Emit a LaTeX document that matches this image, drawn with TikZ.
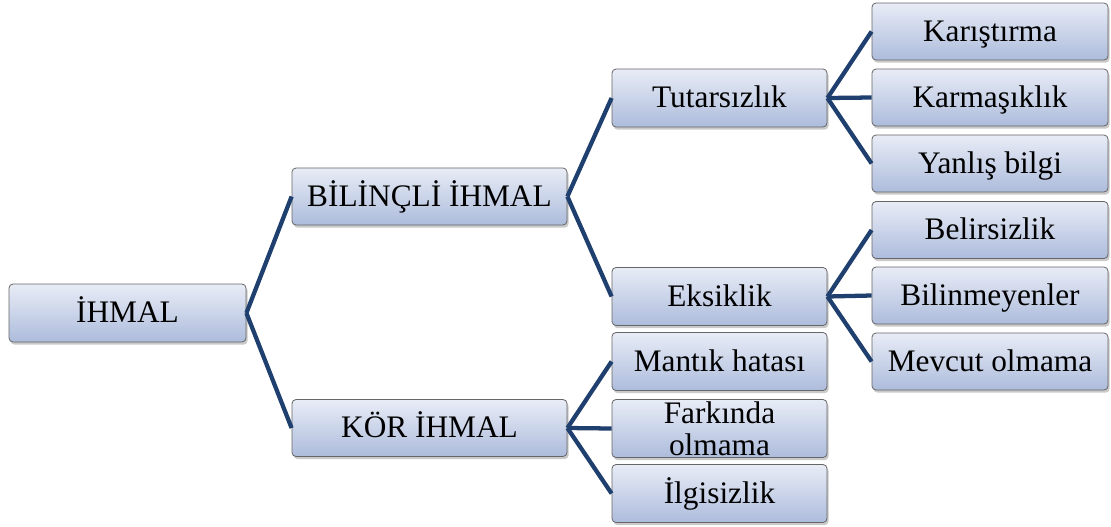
\documentclass[tikz,border=0pt]{standalone}
\usepackage{fontspec}
\setmainfont{Liberation Serif}
\usetikzlibrary{shadows}
\definecolor{linkc}{HTML}{1F3F6E}
\definecolor{boxtop}{HTML}{E8ECF6}
\definecolor{boxbot}{HTML}{ADBCDC}
\begin{document}
\begin{tikzpicture}[x=0.75pt,y=-0.75pt,
  boxbase/.style={rectangle, rounded corners=3pt, draw=black!60, line width=0.6pt,
    top color=boxtop, bottom color=boxbot, inner sep=0pt, align=center,
    font=\fontsize{23.5}{24}\selectfont,
    drop shadow={shadow xshift=1.2pt, shadow yshift=-2pt, opacity=0.35, fill=black!60}},
  box/.style={boxbase, text height=18.6pt, text depth=3.8pt},
  lvlzero/.style={box, minimum width=177.75pt, minimum height=43.5pt},
  lvlone/.style={box, minimum width=206.25pt, minimum height=42.75pt},
  lvltwo/.style={box, minimum width=161.25pt, minimum height=43.5pt},
  lvltwomulti/.style={boxbase, minimum width=161.25pt, minimum height=43.5pt},
  lvlthree/.style={box, minimum width=177pt, minimum height=42.75pt},
  link/.style={draw=linkc, line width=3.2pt, line join=round}]
\useasboundingbox (0,0) rectangle (1111,526);
\node[lvlzero] (ihmal) at (127.5,313) {İHMAL};
\node[lvlone] (bilincli) at (429.5,196.5) {BİLİNÇLİ İHMAL};
\node[lvlone] (kor) at (429.5,428) {KÖR İHMAL};
\node[lvltwo] (tutar) at (719.5,98) {Tutarsızlık};
\node[lvltwo] (eksik) at (719.5,296.5) {Eksiklik};
\node[lvltwo] (mantik) at (719.5,361.5) {Mantık hatası};
\node[lvltwomulti] (farkinda) at (719.5,428.5) {Farkında\\olmama};
\node[lvltwo] (ilgisiz) at (719.5,493.5) {İlgisizlik};
\node[lvlthree] (karis) at (990,31.5) {Karıştırma};
\node[lvlthree] (karma) at (990,97.5) {Karmaşıklık};
\node[lvlthree] (yanlis) at (990,163.5) {Yanlış bilgi};
\node[lvlthree] (belirs) at (990,230) {Belirsizlik};
\node[lvlthree] (bilinm) at (990,295.5) {Bilinmeyenler};
\node[lvlthree] (mevcut) at (990,361.5) {Mevcut olmama};
\draw[link] (ihmal.east) -- (bilincli.west);
\draw[link] (ihmal.east) -- (kor.west);
\draw[link] (bilincli.east) -- (tutar.west);
\draw[link] (bilincli.east) -- (eksik.west);
\draw[link] (kor.east) -- (mantik.west);
\draw[link] (kor.east) -- (farkinda.west);
\draw[link] (kor.east) -- (ilgisiz.west);
\draw[link] (tutar.east) -- (karis.west);
\draw[link] (tutar.east) -- (karma.west);
\draw[link] (tutar.east) -- (yanlis.west);
\draw[link] (eksik.east) -- (belirs.west);
\draw[link] (eksik.east) -- (bilinm.west);
\draw[link] (eksik.east) -- (mevcut.west);
\end{tikzpicture}
\end{document}
